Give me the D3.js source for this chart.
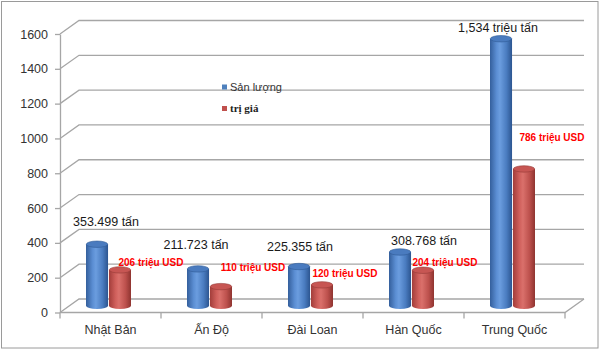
<!DOCTYPE html>
<html>
<head>
<meta charset="utf-8">
<script src="https://cdn.jsdelivr.net/npm/d3@7"></script>
<style>
  html, body { margin: 0; padding: 0; background: #fff; }
  svg { display: block; }
</style>
</head>
<body>
<div id="chart"></div>
<script>
// Export volume (thousand tonnes) and value (million USD) by market
const categories = ["Nhật Bản", "Ấn Độ", "Đài Loan", "Hàn Quốc", "Trung Quốc"];
const seriesNames = ["Sản lượng", "trị giá"];
const volume = [353.499, 211.723, 225.355, 308.768, 1534];
const value = [206, 110, 120, 204, 786];
const volumeLabels = ["353.499 tấn", "211.723 tấn", "225.355 tấn", "308.768 tấn", "1,534 triệu tấn"];
const valueLabels = ["206 triệu USD", "110 triệu USD", "120 triệu USD", "204 triệu USD", "786 triệu USD"];
const yTicks = [0, 200, 400, 600, 800, 1000, 1200, 1400, 1600];

// Hand-placed data-label nudges relative to the top of each cylinder [dx, dy]
const volumeLabelNudge = [[9, -23], [-2, -24], [1, -19.5], [24, -11], [-3, -11]];
const valueLabelNudge = [[31, -7], [32, -19.5], [23, -11], [22, -8], [28, -31]];

const W = 600, H = 350;
const plot = { left: 60, right: 565, top: 34, bottom: 312.5 };
const depth = { dx: 19, dy: -13.5 };
const gridColor = "#a6a6a6";

const svg = d3.select("#chart").append("svg")
  .attr("width", W).attr("height", H)
  .style("font-family", "'Liberation Sans', Arial, sans-serif");

svg.append("rect").attr("width", W).attr("height", H).attr("fill", "#fff");
svg.append("rect")
  .attr("x", 1.5).attr("y", 1.5).attr("width", 596.5).attr("height", 346.5)
  .attr("fill", "none").attr("stroke", "#9a9a9a").attr("stroke-width", 1);

const y = d3.scaleLinear().domain([0, 1600]).range([plot.bottom, plot.top]);
const x = d3.scaleBand().domain(categories).range([plot.left, plot.right]).padding(0);
const xs = d3.scaleBand().domain(seriesNames).range([26, 71]).paddingInner(0.04);

// Back-wall gridlines with their receding side edge
const grid = svg.append("g").attr("fill", "none").attr("stroke", gridColor).attr("stroke-width", 1.3);
grid.selectAll("path.grid").data(yTicks).join("path")
  .attr("class", "grid")
  .attr("d", d => {
    const yy = y(d);
    return `M${plot.left},${yy}L${plot.left + depth.dx},${yy + depth.dy}L${plot.right + depth.dx},${yy + depth.dy}`;
  });

// Floor front edge and right side
grid.append("path")
  .attr("d", `M${plot.left},${y(0)}L${plot.right},${y(0)}L${plot.right + depth.dx},${y(0) + depth.dy}`);

// Value axis
const yAxis = svg.append("g")
  .attr("transform", `translate(${plot.left},0)`)
  .call(d3.axisLeft(y).tickValues(yTicks).tickSize(5).tickSizeOuter(0).tickPadding(7).tickFormat(d3.format("d")));
yAxis.select(".domain").attr("stroke", gridColor).attr("stroke-width", 1.3);
yAxis.selectAll(".tick line").attr("stroke", gridColor).attr("stroke-width", 1.3);
yAxis.selectAll(".tick text")
  .attr("fill", "#333").style("font-size", "12.5px")
  .style("font-family", "'Liberation Sans', Arial, sans-serif");

// Category axis: boundary ticks and centred labels
const edges = categories.map(c => x(c)).concat([plot.right]);
svg.append("g").selectAll("line").data(edges).join("line")
  .attr("x1", d => d).attr("x2", d => d)
  .attr("y1", y(0)).attr("y2", y(0) + 6)
  .attr("stroke", gridColor).attr("stroke-width", 1.3);

const xAxis = svg.append("g")
  .attr("transform", `translate(0,${y(0)})`)
  .call(d3.axisBottom(x).tickSize(0).tickPadding(13));
xAxis.select(".domain").remove();
xAxis.selectAll(".tick text")
  .attr("fill", "#333").style("font-size", "12.5px")
  .style("font-family", "'Liberation Sans', Arial, sans-serif");

// Cylinder shading
const defs = svg.append("defs");
const palettes = {
  "Sản lượng": { body: ["#345f9c", "#5b8ed3", "#6b9ddf", "#4a7cc0", "#2c5590"], top: "#4a7bbf", topEdge: "#2f5a95", legend: "#4f81bd" },
  "trị giá": { body: ["#a23d3a", "#d0605c", "#da706b", "#bd514d", "#8f3430"], top: "#c75653", topEdge: "#953a37", legend: "#c0504d" }
};
seriesNames.forEach((s, i) => {
  const g = defs.append("linearGradient").attr("id", "cyl" + i).attr("x1", "0").attr("x2", "1").attr("y1", "0").attr("y2", "0");
  const stops = [0, 0.3, 0.45, 0.75, 1];
  palettes[s].body.forEach((c, k) => g.append("stop").attr("offset", stops[k]).attr("stop-color", c));
});

const bw = xs.bandwidth();
const rx = bw / 2, ry = 3.2;
const shift = depth.dy / 2;

const bars = [];
categories.forEach((c, i) => {
  bars.push({ cat: c, series: seriesNames[0], v: volume[i], si: 0 });
  bars.push({ cat: c, series: seriesNames[1], v: value[i], si: 1 });
});

const cyl = svg.append("g").selectAll("g").data(bars).join("g");
cyl.append("path")
  .attr("fill", d => `url(#cyl${d.si})`)
  .attr("d", d => {
    const x0 = x(d.cat) + xs(d.series), x1 = x0 + bw;
    const yb = y(0) + shift, yt = y(d.v) + shift;
    return `M${x0},${yt}L${x0},${yb}A${rx},${ry} 0 0 0 ${x1},${yb}L${x1},${yt}Z`;
  });
cyl.append("ellipse")
  .attr("cx", d => x(d.cat) + xs(d.series) + rx)
  .attr("cy", d => y(d.v) + shift)
  .attr("rx", rx - 0.3).attr("ry", ry)
  .attr("fill", d => palettes[d.series].top)
  .attr("stroke", d => palettes[d.series].topEdge).attr("stroke-width", 0.6);

// Data labels
const labels = svg.append("g").attr("text-anchor", "middle");
categories.forEach((c, i) => {
  const bx = x(c) + xs(seriesNames[0]) + rx;
  labels.append("text")
    .attr("x", bx + volumeLabelNudge[i][0])
    .attr("y", y(volume[i]) + shift + volumeLabelNudge[i][1])
    .attr("dy", "0.35em")
    .attr("fill", "#1a1a1a").style("font-size", "12.5px")
    .text(volumeLabels[i]);
  const rxc = x(c) + xs(seriesNames[1]) + rx;
  labels.append("text")
    .attr("x", rxc + valueLabelNudge[i][0])
    .attr("y", y(value[i]) + shift + valueLabelNudge[i][1])
    .attr("dy", "0.35em")
    .attr("fill", "#ff0000").style("font-size", "10px").style("font-weight", "bold")
    .text(valueLabels[i]);
});

// Legend
const legend = svg.append("g").attr("transform", "translate(222,0)");
const legendRows = [
  { name: seriesNames[0], y: 87, font: "'Liberation Sans', Arial, sans-serif", weight: "normal", size: "11px", color: "#333" },
  { name: seriesNames[1], y: 108.5, font: "'Liberation Serif', 'Times New Roman', serif", weight: "bold", size: "11px", color: "#222" }
];
legend.selectAll("rect").data(legendRows).join("rect")
  .attr("x", 0).attr("y", d => d.y - 2.5).attr("width", 5).attr("height", 5)
  .attr("fill", d => palettes[d.name].legend);
legend.selectAll("text").data(legendRows).join("text")
  .attr("x", 8).attr("y", d => d.y).attr("dy", "0.35em")
  .style("font-family", d => d.font).style("font-weight", d => d.weight).style("font-size", d => d.size)
  .attr("fill", d => d.color)
  .text(d => d.name);
</script>
</body>
</html>
